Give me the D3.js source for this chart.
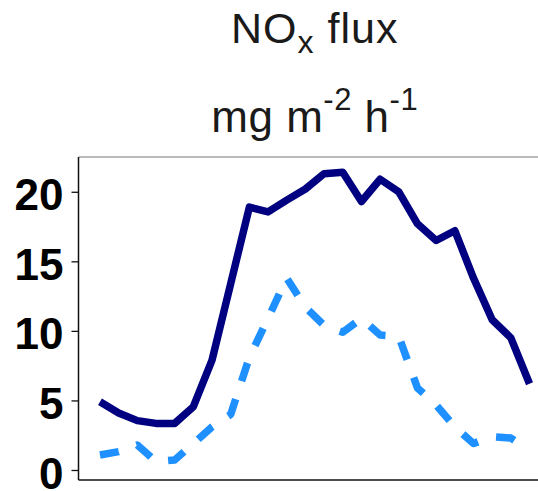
<!DOCTYPE html>
<html>
<head>
<meta charset="utf-8">
<script src="https://cdn.jsdelivr.net/npm/d3@7"></script>
<style>
  body { margin: 0; background: #fff; }
  svg { display: block; font-family: "Liberation Sans", Arial, sans-serif; }
</style>
</head>
<body>
<div id="root"></div>
<script>
// hourly NOx flux, two series
let hours = d3.range(24);
let fluxA = [4.9, 4.1, 3.55, 3.35, 3.35, 4.55, 7.9, 13.4, 18.9, 18.55, 19.4, 20.2,
    21.3, 21.4, 19.3, 20.9, 20.0, 17.7, 16.5, 17.2, 13.8, 10.8, 9.5, 6.2];
let fluxB = [1.08, 1.32, 1.8, 0.6, 0.72, 1.9, 3.1, 4.0, 8.1, 10.9, 13.8, 11.7,
    10.4, 9.9, 10.9, 9.7, 9.6, 5.9, 4.67, 3.1, 1.9, 2.4, 2.3, 1.4];
let yTicks = [0, 5, 10, 15, 20];

let width = 538, height = 491;
let padLeft = 78.5, padRight = 551, padTop = 157, padBottom = 480;

let svg = d3.select('#root').append('svg')
    .attr('width', width)
    .attr('height', height);

let x = d3.scaleLinear()
    .domain([-1.15, 24.15])
    .range([padLeft, padRight]);

let y = d3.scaleLinear()
    .domain([-0.72, 22.5])
    .range([padBottom, padTop]);

let midX = (padLeft + padRight) / 2;

// title, two lines
let t1 = svg.append('text')
    .attr('text-anchor', 'middle')
    .attr('x', midX)
    .attr('y', 43)
    .style('font-size', '43px')
    .style('letter-spacing', '1px')
    .style('fill', '#1a1a1a');
t1.append('tspan').text('NO');
t1.append('tspan').attr('dy', 10).style('font-size', '32px').text('x');
t1.append('tspan').attr('dy', -10).text(' flux');

let t2 = svg.append('text')
    .attr('text-anchor', 'middle')
    .attr('x', midX)
    .attr('y', 132)
    .style('font-size', '44px')
    .style('letter-spacing', '0.5px')
    .style('fill', '#1a1a1a');
t2.append('tspan').text('mg m');
t2.append('tspan').attr('dy', -22).style('font-size', '31px').text('-2');
t2.append('tspan').attr('dy', 22).text(' h');
t2.append('tspan').attr('dy', -22).style('font-size', '31px').text('-1');

// panel
svg.append('clipPath').attr('id', 'panel')
    .append('rect')
    .attr('x', padLeft).attr('y', padTop)
    .attr('width', padRight - padLeft).attr('height', padBottom - padTop);

let line = d3.line()
    .x(function (d, i) { return x(hours[i]); })
    .y(function (d) { return y(d); });

let plot = svg.append('g').attr('clip-path', 'url(#panel)');

plot.append('path')
    .datum(fluxB)
    .attr('d', line)
    .style('fill', 'none')
    .style('stroke', '#1E90FF')
    .style('stroke-width', 7.5)
    .style('stroke-dasharray', '19,19')
    .style('stroke-linejoin', 'round');

plot.append('path')
    .datum(fluxA)
    .attr('d', line)
    .style('fill', 'none')
    .style('stroke', '#000080')
    .style('stroke-width', 7.5)
    .style('stroke-linejoin', 'round');

// top border
svg.append('line')
    .attr('x1', padLeft).attr('x2', padRight)
    .attr('y1', padTop).attr('y2', padTop)
    .style('stroke', '#777')
    .style('stroke-width', 1.2);

// y axis
let yAxis = svg.append('g')
    .attr('transform', 'translate(' + padLeft + ',0)')
    .call(d3.axisLeft(y).tickValues(yTicks).tickSize(7).tickPadding(8));
yAxis.select('.domain').remove();
yAxis.selectAll('.tick line').style('stroke', '#111').style('stroke-width', 1.3);
yAxis.selectAll('.tick text')
    .style('font-family', '"Liberation Sans", Arial, sans-serif')
    .style('font-size', '44px')
    .style('font-weight', 'bold')
    .style('fill', '#000')
    .attr('dy', '0.41em');

svg.append('line')
    .attr('x1', padLeft).attr('x2', padLeft)
    .attr('y1', padTop).attr('y2', padBottom)
    .style('stroke', '#111').style('stroke-width', 1.5);

svg.append('line')
    .attr('x1', padLeft).attr('x2', padRight)
    .attr('y1', padBottom).attr('y2', padBottom)
    .style('stroke', '#111').style('stroke-width', 1.5);
</script>
</body>
</html>
